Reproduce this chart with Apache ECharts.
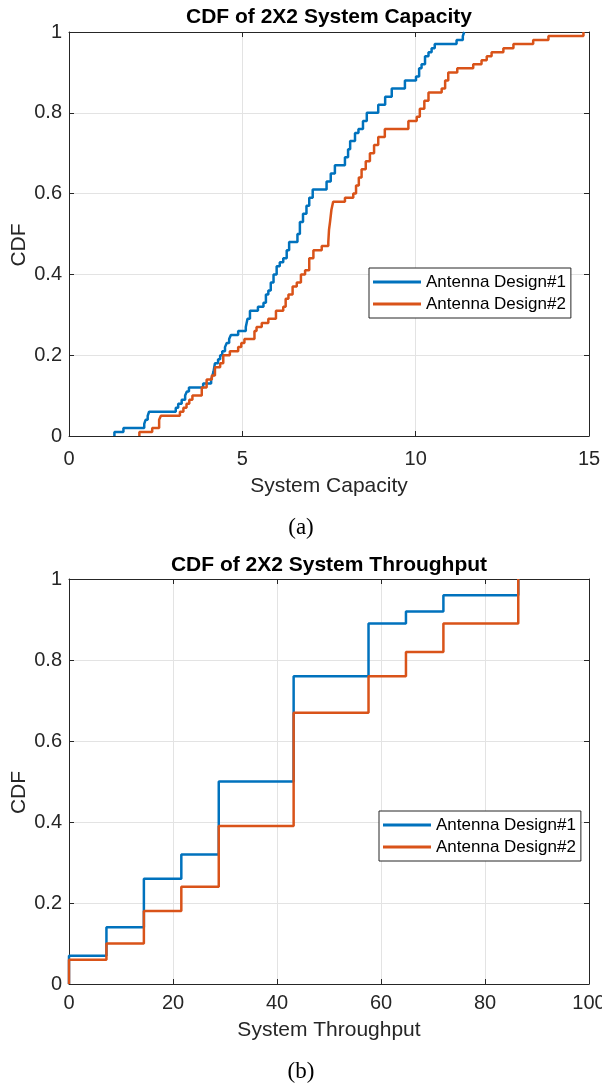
<!DOCTYPE html>
<html>
<head>
<meta charset="utf-8">
<script src="https://cdn.jsdelivr.net/npm/echarts@6/dist/echarts.min.js"></script>
<style>
html,body{margin:0;padding:0;background:#fff;}
#chart{width:602px;height:1091px;}
</style>
</head>
<body>
<div id="chart"></div>
<script>
// ---- Data: (a) CDF of 2X2 System Capacity ----
var seriesNames = ['Antenna Design#1', 'Antenna Design#2'];

var capX1 = [1.31,1.31,1.57,2.17,2.21,2.27,2.31,3.08,3.15,3.25,3.35,3.40,3.46,3.87,4.10,4.14,4.17,4.21,4.30,4.36,4.42,4.50,4.55,4.62,4.67,4.88,5.10,5.15,5.22,5.45,5.61,5.68,5.75,5.82,5.90,5.99,6.08,6.18,6.28,6.35,6.59,6.66,6.75,6.85,6.93,7.03,7.43,7.55,7.67,7.96,8.05,8.11,8.25,8.35,8.48,8.59,8.92,9.12,9.31,9.69,10.01,10.10,10.17,10.27,10.37,10.46,10.55,11.18,11.36,11.40];
var capY1 = [0,0.01,0.02,0.03,0.04,0.05,0.06,0.07,0.08,0.09,0.10,0.11,0.12,0.13,0.14,0.15,0.16,0.18,0.19,0.20,0.21,0.22,0.23,0.24,0.25,0.26,0.27,0.29,0.31,0.32,0.33,0.35,0.36,0.38,0.40,0.42,0.43,0.44,0.46,0.48,0.50,0.53,0.55,0.57,0.59,0.61,0.63,0.65,0.67,0.69,0.71,0.73,0.75,0.76,0.78,0.80,0.82,0.84,0.86,0.88,0.89,0.91,0.92,0.94,0.95,0.96,0.97,0.98,0.99,1.0];

var capX2 = [2.03,2.03,2.40,2.60,2.65,3.20,3.30,3.39,3.47,3.56,3.83,3.97,4.12,4.21,4.36,4.45,4.64,4.88,4.97,5.06,5.35,5.41,5.56,5.75,5.97,6.18,6.25,6.33,6.45,6.57,6.69,6.81,6.93,7.05,7.29,7.48,7.50,7.53,7.57,7.62,7.96,8.20,8.28,8.36,8.44,8.56,8.68,8.80,8.92,9.11,9.79,10.03,10.12,10.25,10.37,10.75,10.85,10.94,11.20,11.66,11.90,12.05,12.19,12.53,12.82,13.39,13.83,14.84];
var capY2 = [0,0.01,0.02,0.04,0.05,0.06,0.07,0.08,0.09,0.10,0.12,0.14,0.15,0.17,0.18,0.20,0.21,0.22,0.23,0.24,0.26,0.27,0.28,0.29,0.31,0.32,0.34,0.35,0.37,0.38,0.40,0.41,0.44,0.46,0.47,0.48,0.51,0.53,0.56,0.58,0.59,0.60,0.62,0.64,0.66,0.68,0.70,0.72,0.74,0.76,0.78,0.79,0.81,0.83,0.85,0.86,0.88,0.90,0.91,0.92,0.93,0.94,0.95,0.96,0.97,0.98,0.99,1.0];

// ---- Data: (b) CDF of 2X2 System Throughput ----
var thrX  = [0, 0, 7.2, 14.4, 21.6, 28.8, 43.2, 57.6, 64.8, 72, 86.4];
var thrY1 = [0, 0.07, 0.14, 0.26, 0.32, 0.50, 0.76, 0.89, 0.92, 0.96, 1.0];
var thrY2 = [0, 0.06, 0.10, 0.18, 0.24, 0.39, 0.67, 0.76, 0.82, 0.89, 1.0];

var capTicks = [0, 5, 10, 15];
var thrTicks = [0, 20, 40, 60, 80, 100];
var cdfTicks = [0, 0.2, 0.4, 0.6, 0.8, 1];

function pairs(xs, ys){ return xs.map(function(x,i){ return [x, ys[i]]; }); }

var FONT = 'Liberation Sans, Arial, sans-serif';
var AX = '#262626';
var BLUE = '#0072BD', ORANGE = '#D95319';

function mainX(idx, ticks, name, margin, gap){
  return {
    type:'value', gridIndex: idx, position:'bottom',
    min: ticks[0], max: ticks[ticks.length-1], interval: ticks[1]-ticks[0],
    name: name, nameLocation:'middle', nameGap: gap, nameMoveOverlap:false,
    nameTextStyle:{fontFamily:FONT, fontSize:21, color:AX},
    axisLine:{show:true, onZero:false, lineStyle:{color:AX, width:1}},
    axisTick:{show:true, inside:true, length:5, lineStyle:{color:AX}},
    axisLabel:{show:true, margin:margin, fontFamily:FONT, fontSize:20, color:AX},
    splitLine:{show:true, lineStyle:{color:'#e3e3e3', width:1}}
  };
}
function topX(idx, ticks){
  return {
    type:'value', gridIndex: idx, position:'top',
    min: ticks[0], max: ticks[ticks.length-1], interval: ticks[1]-ticks[0],
    axisLine:{show:true, onZero:false, lineStyle:{color:AX, width:1}},
    axisTick:{show:true, inside:true, length:5, lineStyle:{color:AX}},
    axisLabel:{show:false}, splitLine:{show:false}
  };
}
function mainY(idx){
  return {
    type:'value', gridIndex: idx, position:'left',
    min: cdfTicks[0], max: cdfTicks[cdfTicks.length-1], interval: 0.2,
    name:'CDF', nameLocation:'middle', nameGap: 39, nameMoveOverlap:false,
    nameTextStyle:{fontFamily:FONT, fontSize:21, color:AX, padding:[0,22,0,0]},
    axisLine:{show:true, onZero:false, lineStyle:{color:AX, width:1}},
    axisTick:{show:true, inside:true, length:5, lineStyle:{color:AX}},
    axisLabel:{show:true, margin:7, fontFamily:FONT, fontSize:20, color:AX},
    splitLine:{show:true, lineStyle:{color:'#e3e3e3', width:1}}
  };
}
function rightY(idx){
  return {
    type:'value', gridIndex: idx, position:'right',
    min: 0, max: 1, interval: 0.2,
    axisLine:{show:true, onZero:false, lineStyle:{color:AX, width:1}},
    axisTick:{show:true, inside:true, length:5, lineStyle:{color:AX}},
    axisLabel:{show:false}, splitLine:{show:false}
  };
}
function stepSeries(name, color, xi, yi, data){
  return {
    name:name, type:'line', step:'end', xAxisIndex: xi, yAxisIndex: yi,
    data: data, showSymbol:false, symbol:'none', animation:false,
    lineStyle:{color:color, width:2.5}, itemStyle:{color:color}
  };
}
function legendAt(left, top){
  return {
    orient:'vertical', left:left, top:top,
    data: seriesNames,
    icon:'rect', itemWidth:48, itemHeight:3, itemGap:0,
    padding:[3,5,3,4],
    borderColor:AX, borderWidth:1, backgroundColor:'#fff',
    selectedMode:false,
    textStyle:{fontFamily:FONT, fontSize:17, color:'#000', lineHeight:22}
  };
}

var chart = echarts.init(document.getElementById('chart'), null, {renderer:'canvas'});
chart.setOption({
  animation:false,
  backgroundColor:'#fff',
  grid:[
    {left:69, top:32, width:520, height:404, containLabel:false, outerBoundsMode:'none'},
    {left:69, top:579, width:520, height:405, containLabel:false, outerBoundsMode:'none'}
  ],
  xAxis:[
    mainX(0, capTicks, 'System Capacity', 13, 40),
    mainX(1, thrTicks, 'System Throughput', 9, 36),
    topX(0, capTicks),
    topX(1, thrTicks)
  ],
  yAxis:[ mainY(0), mainY(1), rightY(0), rightY(1) ],
  legend:[ legendAt(369, 268), legendAt(379, 811) ],
  series:[
    stepSeries(seriesNames[0], BLUE, 0, 0, pairs(capX1, capY1)),
    stepSeries(seriesNames[1], ORANGE, 0, 0, pairs(capX2, capY2)),
    stepSeries(seriesNames[0], BLUE, 1, 1, pairs(thrX, thrY1)),
    stepSeries(seriesNames[1], ORANGE, 1, 1, pairs(thrX, thrY2))
  ],
  graphic:[
    {type:'text', x:329, y:17, style:{text:'CDF of 2X2 System Capacity', font:'bold 21px Liberation Sans, Arial, sans-serif', fill:'#000', textAlign:'center', textVerticalAlign:'middle', verticalAlign:'middle'}},
    {type:'text', x:329, y:565, style:{text:'CDF of 2X2 System Throughput', font:'bold 21px Liberation Sans, Arial, sans-serif', fill:'#000', textAlign:'center', textVerticalAlign:'middle', verticalAlign:'middle'}},
    {type:'text', x:301, y:528, style:{text:'(a)', font:'23px Liberation Serif, Times New Roman, serif', fill:'#000', textAlign:'center', textVerticalAlign:'middle', verticalAlign:'middle'}},
    {type:'text', x:301, y:1072, style:{text:'(b)', font:'23px Liberation Serif, Times New Roman, serif', fill:'#000', textAlign:'center', textVerticalAlign:'middle', verticalAlign:'middle'}}
  ]
});
</script>
</body>
</html>
